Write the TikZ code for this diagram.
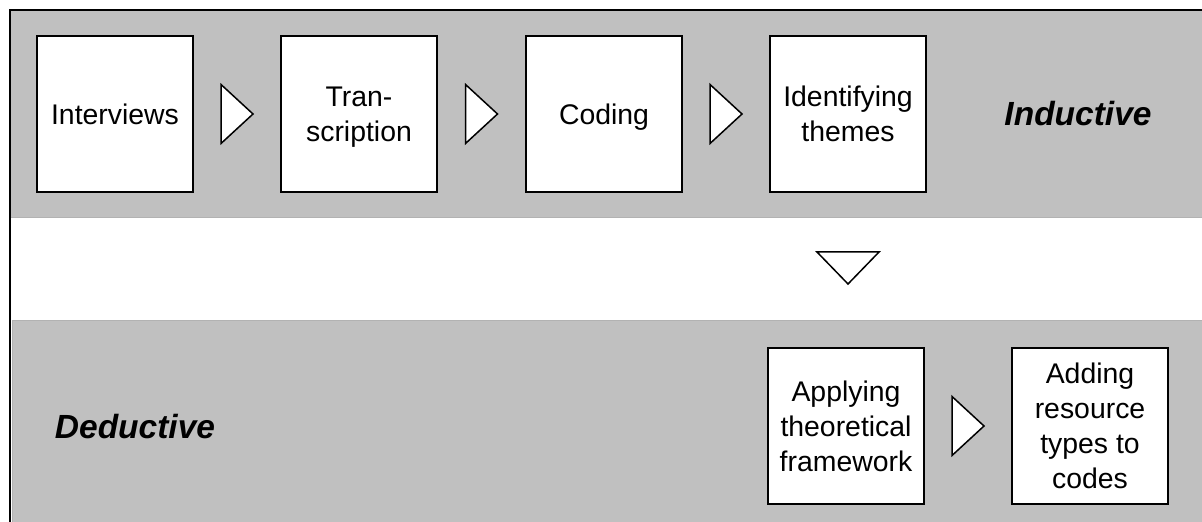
\documentclass[tikz,border=0pt]{standalone}
\usepackage{fontspec}
\setmainfont{Liberation Sans}
\usetikzlibrary{calc}
\definecolor{bandgray}{HTML}{C0C0C0}
\definecolor{bandedge}{HTML}{B2B2B2}
\begin{document}
\begin{tikzpicture}[x=0.5pt,y=-0.5pt,
  stepbox/.style={draw=black,line width=1pt,fill=white,minimum width=78pt,
    minimum height=78pt,inner sep=0pt,align=center,text depth=0pt,
    font=\fontsize{14.2}{17.5}\selectfont},
  phase/.style={inner sep=0pt,font=\fontsize{16.75}{20}\selectfont\bfseries\itshape},
  pointer/.style={draw=black,line width=0.75pt,fill=white,line join=miter}]
\useasboundingbox (0,0) rectangle (1202,522);

% the two phase bands
\fill[bandgray] (9,10) rectangle (1202,218);
\draw[bandedge,line width=0.5pt] (9,218) -- (1202,218);
\fill[bandgray] (12,321) rectangle (1202,522);
\draw[bandedge,line width=0.5pt] (12,321) -- (1202,321);
\draw[bandedge,line width=0.5pt] (12,321) -- (12,522);
% outer frame
\draw[black,line width=1pt] (10,522) -- (10,10) -- (1202,10);

% inductive phase
\node[stepbox] (interviews)    at (115,114) {Interviews};
\node[stepbox] (transcription) at (359,114) {Tran-\\scription};
\node[stepbox] (coding)        at (604,114) {Coding};
\node[stepbox] (themes)        at (848,114) {Identifying\\themes};
\node[phase]   (inductive)     at (1078,114) {Inductive};

% deductive phase
\node[phase]   (deductive) at (135,427) {Deductive};
\node[stepbox] (framework) at (846,426) {Applying\\theoretical\\framework};
\node[stepbox] (resource)  at (1090,426) {Adding\\resource\\types to\\codes};

% step markers
\coordinate (m1) at ($(interviews.east)!0.5!(transcription.west)$);
\coordinate (m2) at ($(transcription.east)!0.5!(coding.west)$);
\coordinate (m3) at ($(coding.east)!0.5!(themes.west)$);
\coordinate (m4) at ($(themes.south)+(0,75)$);
\coordinate (m5) at ($(framework.east)!0.5!(resource.west)$);
\foreach \m in {m1,m2,m3,m5}
  \draw[pointer] ($(\m)+(-16,-29.5)$) -- ++(32,29.5) -- ++(-32,29.5) -- cycle;
\draw[pointer] ($(m4)+(-31,-16)$) -- ++(62,0) -- ++(-31,32) -- cycle;
\end{tikzpicture}
\end{document}
